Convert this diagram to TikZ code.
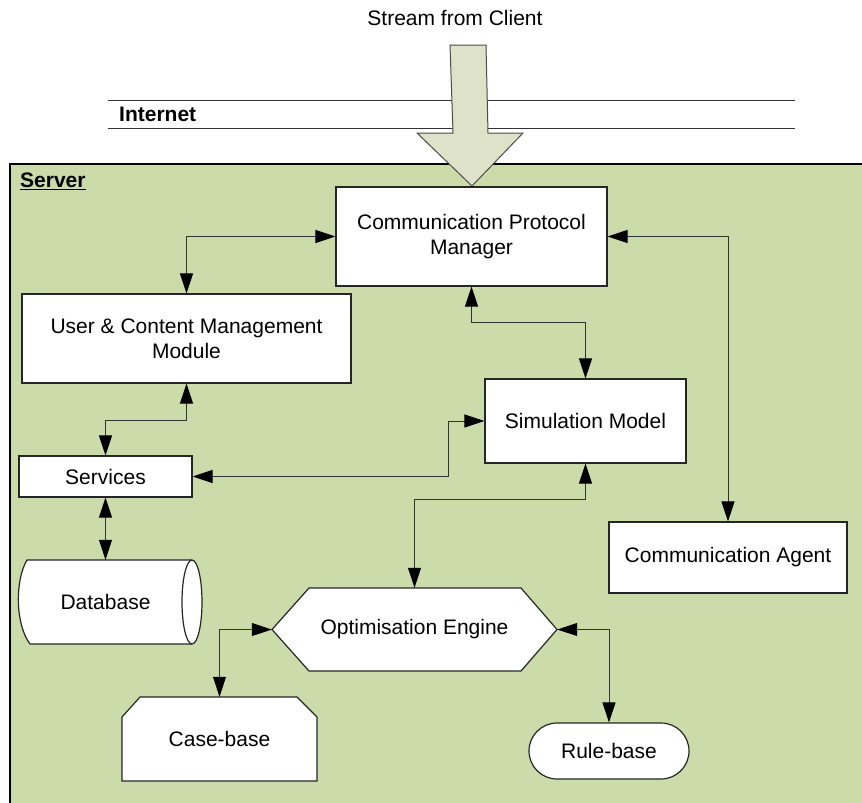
\documentclass[tikz,border=0pt]{standalone}
\usepackage{fontspec}
\setmainfont{Liberation Sans}
\usetikzlibrary{arrows.meta}
\definecolor{srv}{RGB}{203,219,170}
\definecolor{bigarrow}{RGB}{221,226,200}
\begin{document}
\begin{tikzpicture}[x=1pt,y=-1pt,
  every node/.style={font=\fontsize{21}{25}\selectfont},
  box/.style={draw=black!85,fill=white,line width=1.2pt,align=center,inner sep=0pt},
  shapeline/.style={draw=black!85,fill=white,line width=1.2pt},
  txt/.style={draw=none,fill=none,align=center,inner sep=0pt},
  conn/.style={draw=black!80,line width=1pt,{Triangle[length=20pt,width=13pt,color=black]}-{Triangle[length=20pt,width=13pt,color=black]}},
  lbl/.style={inner sep=0pt}]
\useasboundingbox (0,0) rectangle (862,803);
% server area
\fill[srv] (10,164) rectangle (875,815);
\draw[black,line width=1.2pt] (10,815) -- (10,164) -- (875,164);
\node[lbl,anchor=west,font=\fontsize{21}{25}\selectfont\bfseries] (srvlbl) at (20,181) {\underline{Server}};
% internet
\draw[black!80,line width=1pt] (108,100) -- (795,100);
\draw[black!80,line width=1pt] (108,128) -- (795,128);
\node[lbl,anchor=west,font=\fontsize{21}{25}\selectfont\bfseries] (inet) at (119,114) {Internet};
\node[lbl] (stream) at (455,18) {Stream from Client};
% big arrow
\draw[fill=bigarrow,draw=black!70,line width=1pt] (450,45) -- (486,45) -- (488,133) -- (523,133) -- (472,186) -- (417,133) -- (453,133) -- cycle;
% boxes
\node[box,minimum width=271pt,minimum height=99pt] (cpm) at (471.5,236.5) {Communication Protocol\\Manager};
\node[box,minimum width=329pt,minimum height=89pt] (ucm) at (186.5,338.5) {User \& Content Management\\Module};
\node[box,minimum width=201pt,minimum height=84pt] (sim) at (585.5,421) {Simulation Model};
\node[box,minimum width=173pt,minimum height=41pt] (svc) at (105.5,476.5) {Services};
\node[box,minimum width=238pt,minimum height=71pt] (agent) at (728,557.5) {Communication Agent};
% database cylinder
\path[fill=white] (27,560) -- (192,560) -- (192,644) -- (30,644) .. controls (15,624) and (15,580) .. (27,560) -- cycle;
\draw[black!85,line width=1.2pt] (192,560) -- (27,560) .. controls (15,580) and (15,624) .. (30,644) -- (192,644);
\draw[shapeline] (192,602) ellipse [x radius=10,y radius=42];
\node[txt,minimum width=170pt,minimum height=84pt] (db) at (105.5,602) {Database};
% optimisation engine hexagon
\draw[shapeline] (272,629.5) -- (309,588) -- (521,588) -- (557,629.5) -- (521,671) -- (309,671) -- cycle;
\node[txt,minimum width=285pt,minimum height=83pt] (opt) at (414.5,629.5) {Optimisation Engine};
% case-base
\draw[shapeline] (122,781) -- (122,717) -- (140,697) -- (297,697) -- (317,717) -- (317,781) -- cycle;
\node[txt,minimum width=195pt,minimum height=84pt] (cb) at (219.5,739) {Case-base};
% rule-base
\node[box,rounded corners=28pt,minimum width=160pt,minimum height=56pt] (rb) at (609,751) {Rule-base};
% connectors
\draw[conn] (ucm.north) |- (cpm.west);
\draw[conn] (cpm.south) -- ++(0,36) -| (sim.north);
\draw[conn] (cpm.east) -| (agent.north);
\draw[conn] (ucm.south) -- ++(0,37) -| (svc.north);
\coordinate (j1) at (448,0);
\draw[conn] (svc.east) -- (svc.east -| j1) |- (sim.west);
\draw[conn] (svc.south) -- (db.north);
\draw[conn] (sim.south) -- ++(0,36) -| (opt.north);
\draw[conn] (opt.west) -| (cb.north);
\draw[conn] (opt.east) -| (rb.north);
\end{tikzpicture}
\end{document}
